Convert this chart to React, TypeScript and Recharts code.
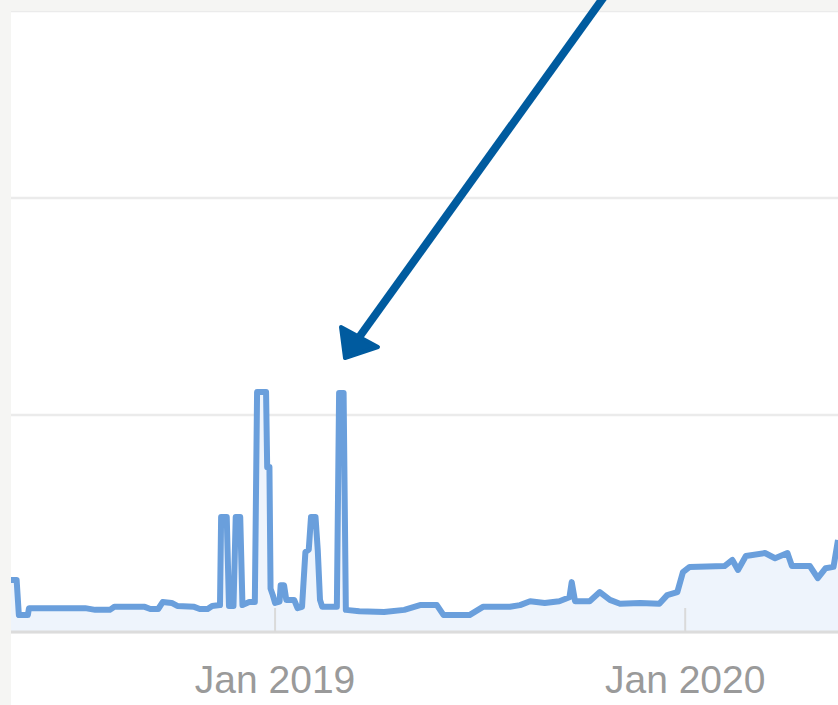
import { AreaChart, Area, XAxis, YAxis, CartesianGrid } from "recharts"

// daily-ish readings of the organic traffic line
const dates = [
    "2018-05-11", "2018-05-16", "2018-05-18", "2018-05-26", "2018-05-27", "2018-07-16",
    "2018-07-25", "2018-08-07", "2018-08-11", "2018-09-07", "2018-09-12", "2018-09-19",
    "2018-09-23", "2018-10-01", "2018-10-06", "2018-10-21", "2018-10-26", "2018-11-02",
    "2018-11-06", "2018-11-13", "2018-11-14", "2018-11-19", "2018-11-21", "2018-11-25",
    "2018-11-27", "2018-12-01", "2018-12-03", "2018-12-09", "2018-12-14", "2018-12-16",
    "2018-12-24", "2018-12-25", "2018-12-27", "2018-12-28", "2018-12-30", "2019-01-01",
    "2019-01-05", "2019-01-06", "2019-01-09", "2019-01-11", "2019-01-18", "2019-01-21",
    "2019-01-25", "2019-01-28", "2019-01-31", "2019-02-02", "2019-02-06", "2019-02-08",
    "2019-02-10", "2019-02-12", "2019-02-25", "2019-02-27", "2019-03-03", "2019-03-05",
    "2019-03-17", "2019-04-08", "2019-04-26", "2019-05-10", "2019-05-25", "2019-05-31",
    "2019-06-23", "2019-07-05", "2019-07-29", "2019-08-07", "2019-08-16", "2019-08-29",
    "2019-09-11", "2019-09-20", "2019-09-22", "2019-09-25", "2019-10-08", "2019-10-17",
    "2019-10-26", "2019-11-04", "2019-11-22", "2019-12-09", "2019-12-16", "2019-12-25",
    "2019-12-30", "2020-01-05", "2020-02-05", "2020-02-12", "2020-02-17", "2020-02-24",
    "2020-03-12", "2020-03-21", "2020-04-01", "2020-04-05", "2020-04-21", "2020-04-28",
    "2020-05-05", "2020-05-12", "2020-05-16",
]

const traffic = [
    120, 120, 39, 39, 55, 55,
    51, 51, 58, 58, 53, 53,
    69, 67, 60, 58, 53, 53,
    60, 62, 265, 265, 60, 60,
    265, 265, 62, 69, 69, 553,
    553, 380, 380, 100, 85, 67,
    70, 108, 108, 74, 74, 55,
    58, 184, 190, 265, 265, 189,
    74, 58, 58, 551, 551, 51,
    48, 46, 51, 62, 62, 39,
    39, 58, 58, 62, 71, 67,
    71, 80, 115, 71, 71, 92,
    74, 65, 67, 65, 85, 92,
    138, 150, 152, 166, 143, 175,
    182, 170, 182, 152, 152, 124,
    147, 150, 212,
]

const tickDates = ["2019-01-01", "2020-01-01"]
const tickLabels = ["Jan 2019", "Jan 2020"]
const yTicks = [0, 500, 1000]
const xRange = ["2018-05-11", "2020-05-16"]

const toTime = (d: string) => Date.parse(d + "T00:00:00Z")

const data = dates.map((d, i) => ({
    date: toTime(d),
    traffic: traffic[i],
}))

function YearTick(props: any) {
    const { x, y, payload } = props
    const idx = tickDates.findIndex((d) => toTime(d) === payload.value)

    return (
        <g>
            <line x1={x} y1={y} x2={x} y2={y - 24} stroke="#dadada" strokeWidth={2} />
            <text
                x={x}
                y={y + 61}
                textAnchor="middle"
                fill="#9a9a9a"
                fontSize={39}
                fontFamily="'Liberation Sans', Arial, sans-serif"
            >
                {tickLabels[idx]}
            </text>
        </g>
    )
}

export default function App() {
    return (
        <div
            style={{
                position: "absolute",
                left: 0,
                top: 0,
                width: 838,
                height: 705,
                background: "#f5f5f3",
                overflow: "hidden",
            }}
        >
            <div
                style={{
                    position: "absolute",
                    left: 11,
                    top: 11,
                    width: 827,
                    height: 694,
                    background: "#ffffff",
                }}
            >
                <AreaChart
                    width={827}
                    height={694}
                    data={data}
                    margin={{ top: 0, right: 0, left: 0, bottom: 0 }}
                >
                    <CartesianGrid
                        vertical={false}
                        stroke="#ebebeb"
                        strokeWidth={2.5}
                    />
                    <XAxis
                        dataKey="date"
                        type="number"
                        scale="time"
                        domain={[toTime(xRange[0]), toTime(xRange[1])]}
                        allowDataOverflow
                        ticks={tickDates.map(toTime)}
                        height={73}
                        tickSize={0}
                        tickMargin={0}
                        tickLine={false}
                        axisLine={{ stroke: "#dcdcdc", strokeWidth: 3 }}
                        tick={<YearTick />}
                    />
                    <YAxis
                        hide
                        domain={[0, 1431]}
                        ticks={yTicks}
                        allowDataOverflow
                    />
                    <Area
                        type="linear"
                        dataKey="traffic"
                        stroke="#6a9fdc"
                        strokeWidth={6}
                        strokeLinejoin="round"
                        fill="#eef4fc"
                        fillOpacity={1}
                        dot={false}
                        activeDot={false}
                        isAnimationActive={false}
                    />
                </AreaChart>
            </div>

            {/* annotation arrow pointing at the spike */}
            <svg
                width={838}
                height={705}
                style={{ position: "absolute", left: 0, top: 0, pointerEvents: "none" }}
            >
                <line
                    x1={606}
                    y1={-6}
                    x2={360}
                    y2={336}
                    stroke="#005b9f"
                    strokeWidth={8}
                />
                <polygon
                    points="345,358 341,327 378,347"
                    fill="#005b9f"
                    stroke="#005b9f"
                    strokeWidth={4}
                    strokeLinejoin="round"
                />
            </svg>
        </div>
    )
}
